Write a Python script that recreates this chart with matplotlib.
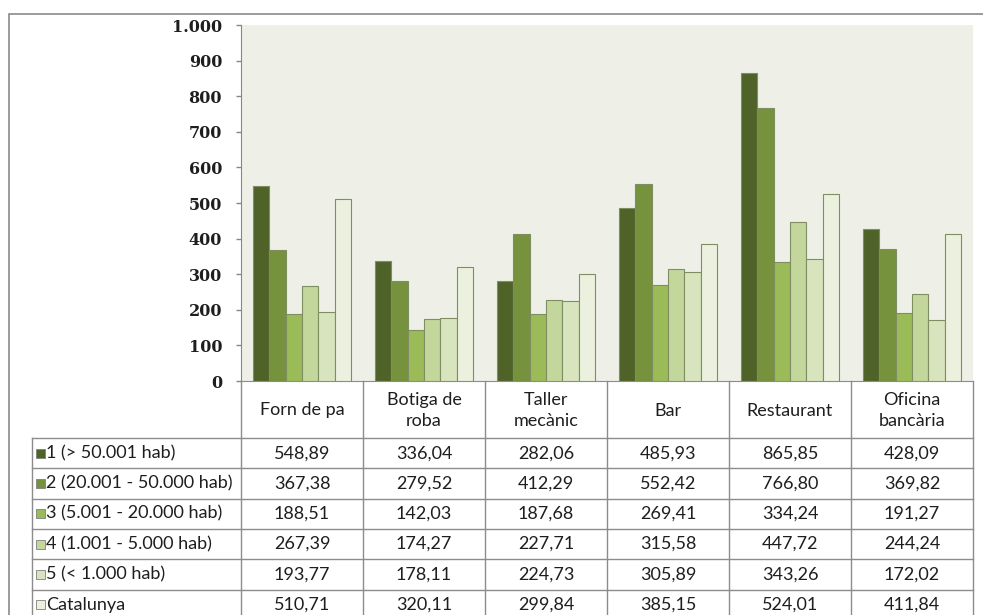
import matplotlib
matplotlib.use("Agg")
import matplotlib.pyplot as plt
from matplotlib.patches import Rectangle
from matplotlib.transforms import blended_transform_factory

# --- data -------------------------------------------------------------
categories = ["Forn de pa", "Botiga de\nroba", "Taller\nmecànic", "Bar",
              "Restaurant", "Oficina\nbancària"]
series_names = ["1 (> 50.001 hab)", "2 (20.001 - 50.000 hab)",
                "3 (5.001 - 20.000 hab)", "4 (1.001 - 5.000 hab)",
                "5 (< 1.000 hab)", "Catalunya"]
s1 = [548.89, 336.04, 282.06, 485.93, 865.85, 428.09]
s2 = [367.38, 279.52, 412.29, 552.42, 766.80, 369.82]
s3 = [188.51, 142.03, 187.68, 269.41, 334.24, 191.27]
s4 = [267.39, 174.27, 227.71, 315.58, 447.72, 244.24]
s5 = [193.77, 178.11, 224.73, 305.89, 343.26, 172.02]
catalunya = [510.71, 320.11, 299.84, 385.15, 524.01, 411.84]
y_ticks = [0, 100, 200, 300, 400, 500, 600, 700, 800, 900, 1000]

series_values = [s1, s2, s3, s4, s5, catalunya]
colors = ["#4F6228", "#76923C", "#9BBB59", "#C3D69B", "#D7E4BD", "#EBF1DE"]

# --- figure geometry (pixels) -----------------------------------------
W, H = 983, 615
plot_left, plot_right = 241, 973
plot_top, plot_bottom = 25, 381
header_bottom = 438
row_h = 30.3
label_left = 32
line_col = "#8C8C8C"
text_col = "#1E1E1E"

fig = plt.figure(figsize=(W / 100, H / 100), dpi=100)
fig.patch.set_facecolor("white")

# overlay in pixel coordinates for the frame and the data table
ov = fig.add_axes([0, 0, 1, 1])
ov.set_xlim(0, W)
ov.set_ylim(H, 0)
ov.axis("off")
ov.patch.set_visible(False)

ax = fig.add_axes([plot_left / W, (H - plot_bottom) / H,
                   (plot_right - plot_left) / W, (plot_bottom - plot_top) / H])
ax.set_facecolor("#EEF0E7")
ax.set_zorder(1)
ov.set_zorder(2)

# --- bars -------------------------------------------------------------
n = len(series_values)
bw = 0.134
xs = list(range(len(categories)))
for i, (vals, c) in enumerate(zip(series_values, colors)):
    pos = [x + (i - (n - 1) / 2) * bw for x in xs]
    ax.bar(pos, vals, width=bw, color=c, edgecolor="#7E8E60", linewidth=0.8,
           zorder=3)

ax.set_xlim(-0.5, len(categories) - 0.5)
ax.set_ylim(0, 1000)
ax.set_yticks(y_ticks)
ax.set_yticklabels([f"{t:,}".replace(",", ".") for t in y_ticks],
                   fontfamily="DejaVu Serif", fontweight="bold", fontsize=11.5,
                   color=text_col)
ax.tick_params(axis="y", length=3.6, width=1, color="#868686", pad=10)
ax.tick_params(axis="x", length=0, labelbottom=False)
for side in ["top", "right"]:
    ax.spines[side].set_visible(False)
ax.spines["left"].set_color("#868686")
ax.spines["bottom"].set_color(line_col)

# --- outer frame ------------------------------------------------------
ov.plot([9, 9, W + 5], [H + 5, 14, 14], color="#8A8A8A", lw=1.2,
        solid_joinstyle="miter")

# --- data table -------------------------------------------------------
bt = blended_transform_factory(ax.transData, ov.transData)
n_rows = len(series_names)
row_edges = [header_bottom + k * row_h for k in range(n_rows + 1)]

# vertical lines at category boundaries
for k in range(len(categories) + 1):
    ov.plot([k - 0.5, k - 0.5], [plot_bottom, H + 5], color=line_col, lw=1,
            transform=bt)
# left edge of the label column
ov.plot([label_left, label_left], [header_bottom, H + 5], color=line_col, lw=1)
# horizontal row separators
for y in row_edges:
    ov.plot([label_left, plot_right], [y, y], color=line_col, lw=1)

font = dict(fontfamily="Lato", fontsize=13, color=text_col)

# header cells
for x, cat in zip(xs, categories):
    ov.text(x, (plot_bottom + header_bottom) / 2 + 1, cat, ha="center",
            va="center", linespacing=1.35, transform=bt, **font)

# row labels with colour keys, and values
for r, (name, vals, c) in enumerate(zip(series_names, series_values, colors)):
    yc = row_edges[r] + row_h / 2
    ov.add_patch(Rectangle((36, yc - 4.5), 9, 9, facecolor=c,
                           edgecolor="#7F7F7F", lw=0.6))
    ov.text(46, yc, name, ha="left", va="center", **font)
    for x, v in zip(xs, vals):
        ov.text(x, yc, f"{v:.2f}".replace(".", ","), ha="center",
                va="center", transform=bt, **font)

fig.savefig("out.png", dpi=100)
